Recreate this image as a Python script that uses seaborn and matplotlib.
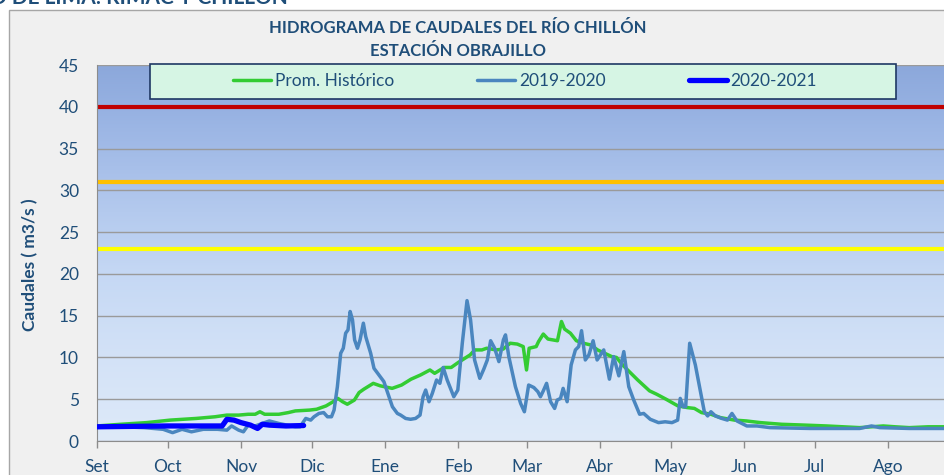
import matplotlib.pyplot as plt
import matplotlib.colors as mcolors
from matplotlib.patches import Rectangle
import seaborn as sns
import numpy as np
import pandas as pd

# eje x: dias desde el 1 de setiembre
month_labels = ['Set', 'Oct', 'Nov', 'Dic', 'Ene', 'Feb', 'Mar', 'Abr', 'May', 'Jun', 'Jul', 'Ago']
month_starts = [0, 30, 61, 91, 122, 153, 182, 213, 243, 274, 304, 335]

# Prom. Historico
hist_day = [0, 10, 21, 31, 42, 50, 55, 60, 64, 67,
            69, 71, 77, 81, 84, 90, 93, 97, 100, 102,
            104, 106, 109, 111, 113, 117, 120, 125, 129, 133,
            137, 141, 143, 147, 150, 153, 158, 160, 163, 165,
            169, 172, 175, 178, 180.5, 181.9, 183, 186, 187, 189,
            191, 193, 195, 196.7, 198, 200.5, 203, 206, 209, 212,
            215, 218, 220, 222, 224, 229, 234, 237, 241, 246,
            250, 253, 256, 260, 264, 270, 275, 281, 290, 300,
            309, 316, 323, 328, 333, 338, 344, 352, 359]
hist_q = [1.8, 2.0, 2.2, 2.5, 2.7, 2.9, 3.1, 3.1, 3.2, 3.2,
          3.5, 3.2, 3.2, 3.4, 3.6, 3.7, 3.8, 4.2, 4.7, 5.1,
          4.7, 4.4, 4.9, 5.8, 6.2, 6.9, 6.6, 6.3, 6.7, 7.4,
          7.9, 8.5, 8.1, 8.8, 8.8, 9.4, 10.3, 10.9, 10.9, 11.1,
          10.9, 11.0, 11.7, 11.6, 11.3, 8.5, 11.1, 11.3, 11.9, 12.8,
          12.2, 12.1, 12.0, 14.3, 13.4, 12.9, 12.0, 11.7, 11.5, 10.9,
          10.5, 10.1, 10.0, 9.3, 8.7, 7.3, 6.0, 5.6, 5.0, 4.2,
          4.0, 3.9, 3.4, 3.2, 2.8, 2.5, 2.4, 2.2, 2.0, 1.9,
          1.8, 1.7, 1.6, 1.7, 1.8, 1.7, 1.6, 1.7, 1.7]

# 2019-2020
q1920_day = [0, 10, 20, 28, 32, 36, 40, 45, 51, 55,
             57, 60, 62, 64, 67, 73, 77, 84, 86, 88.4,
             90.5, 91.9, 94, 96, 97.6, 99.3, 100.4, 101.8, 103.2, 104.3,
             105.3, 106.3, 107.2, 108.2, 109.1, 110.3, 111.4, 112.8, 113.8, 115.9,
             117.3, 119.4, 121.5, 123.2, 125.1, 127.2, 128.6, 130.7, 132.8, 134.9,
             136.8, 138.1, 139.2, 140.6, 142, 143.8, 145.2, 146.6, 148.3, 151.1,
             152.8, 154.7, 156.7, 158.2, 159.9, 162.1, 163.8, 165.3, 166.7, 168.4,
             170.2, 172.1, 173, 174.4, 177.2, 179.4, 181, 182.8, 185, 186.7,
             187.8, 189, 190.4, 192.1, 193.8, 194.9, 196.3, 197.4, 199.1, 200.8,
             202.6, 204, 205.2, 206.8, 208.3, 210.1, 211.8, 213.2, 214.6, 217,
             218.8, 221, 223.1, 225.2, 227.3, 229.8, 231.5, 234.3, 237.8, 240.6,
             243.5, 245.9, 247, 248.2, 249.3, 251, 253.4, 255.3, 257.2, 258.6,
             260, 261.9, 264.6, 267, 268.9, 271, 273.8, 275.2, 279.5, 285,
             302, 323, 328, 331.5, 344, 359]
q1920 = [1.7, 1.7, 1.6, 1.4, 1.0, 1.4, 1.1, 1.4, 1.4, 1.3,
         1.8, 1.3, 1.1, 1.9, 1.8, 2.4, 2.1, 1.7, 1.7, 2.7,
         2.5, 2.9, 3.3, 3.4, 2.9, 2.9, 3.7, 6.5, 10.5, 11.1,
         12.9, 13.3, 15.5, 14.5, 12.1, 11.1, 12.1, 14.1, 12.5, 10.5,
         8.7, 7.9, 7.1, 5.7, 4.1, 3.3, 3.1, 2.7, 2.6, 2.7,
         3.1, 5.3, 6.1, 4.7, 5.7, 7.3, 6.9, 8.8, 7.3, 5.3,
         6.1, 11.7, 16.8, 14.5, 9.7, 7.5, 8.6, 9.7, 12.0, 11.1,
         9.5, 12.1, 12.7, 10.1, 6.5, 4.5, 3.5, 6.7, 6.4, 5.9,
         5.3, 6.0, 6.9, 4.7, 3.9, 4.9, 5.1, 6.3, 4.7, 9.1,
         10.9, 11.3, 13.2, 9.7, 10.3, 12.0, 9.7, 10.3, 10.9, 7.4,
         10.1, 7.8, 10.7, 6.5, 4.9, 3.2, 3.3, 2.6, 2.2, 2.3,
         2.2, 2.5, 5.1, 4.1, 4.1, 11.7, 9.1, 6.3, 3.5, 3.0,
         3.5, 3.0, 2.7, 2.5, 3.3, 2.4, 2.0, 1.8, 1.8, 1.6,
         1.5, 1.5, 1.8, 1.6, 1.5, 1.5]

# 2020-2021
q2021_day = [0, 30, 53, 55, 58, 61, 65, 68, 70, 73, 80, 87.5]
q2021 = [1.7, 1.8, 1.8, 2.6, 2.5, 2.2, 1.9, 1.5, 2.0, 1.9, 1.8, 1.85]

# umbrales
umbral_q = [40, 31, 23]
umbral_colors = ['#C00000', '#FFC000', '#FFFF00']

sns.set_style('white')
plt.rcParams['font.family'] = ['Lato', 'DejaVu Sans']

txt_color = '#1F4E79'
xmax = 358.7

fig = plt.figure(figsize=(9.44, 4.75), dpi=100)
fig.add_artist(Rectangle((9 / 944, -0.05), 1.1, 1.05 - 10 / 475, transform=fig.transFigure,
                         facecolor='#F0F0F0', edgecolor='#A6A6A6', lw=1, zorder=-1))
ax = fig.add_axes([97 / 944, 34 / 475, 847 / 944, 376 / 475])

# fondo degradado del area de trazado
cmap = mcolors.LinearSegmentedColormap.from_list(
    'fondo', [(0, '#DEEAF9'), (10 / 45, '#D3E2F7'), (20 / 45, '#C5D8F4'),
              (30 / 45, '#AEC5EC'), (40 / 45, '#96B1E2'), (1, '#8CA8DB')])
ax.imshow(np.linspace(0, 1, 256).reshape(-1, 1), extent=[0, xmax, 0, 45], origin='lower',
          aspect='auto', cmap=cmap, zorder=0)

for q, c in zip(umbral_q, umbral_colors):
    ax.axhline(q, color=c, lw=3, zorder=2)

df_hist = pd.DataFrame({'dia': hist_day, 'q': hist_q})
df_1920 = pd.DataFrame({'dia': q1920_day, 'q': q1920})
df_2021 = pd.DataFrame({'dia': q2021_day, 'q': q2021})
sns.lineplot(data=df_hist, x='dia', y='q', ax=ax, color='#33CC33', lw=2.5, label='Prom. Histórico', zorder=3)
sns.lineplot(data=df_1920, x='dia', y='q', ax=ax, color='#4A86BF', lw=2.5, label='2019-2020', zorder=3)
sns.lineplot(data=df_2021, x='dia', y='q', ax=ax, color='#0000FF', lw=3.8, label='2020-2021', zorder=3)

ax.set_xlim(0, xmax)
ax.set_ylim(0, 45)
ax.set_yticks(range(0, 50, 5))
ax.set_xticks(month_starts)
ax.set_xticklabels(month_labels)
ax.set_axisbelow(True)
ax.yaxis.grid(True, color='#9A9A9A', lw=1)
ax.xaxis.grid(False)
ax.tick_params(axis='y', length=0, pad=13, labelsize=12.5, labelcolor=txt_color)
ax.tick_params(axis='x', length=5, width=1, color='#8C8C8C', direction='out', pad=8,
               labelsize=12.5, labelcolor=txt_color, bottom=True)
for s in ['top', 'right']:
    ax.spines[s].set_visible(False)
for s in ['left', 'bottom']:
    ax.spines[s].set_color('#8C8C8C')
ax.set_xlabel('')
ax.set_ylabel('Caudales ( m3/s )', fontsize=12.5, weight='bold', color=txt_color)
ax.yaxis.set_label_coords(-0.069, 0.47)

# leyenda con caja propia
ax.add_patch(Rectangle((53 / 847, 342 / 376), 746 / 847, 35 / 376, transform=ax.transAxes,
                       facecolor='#D6F5E4', edgecolor='#1F3864', lw=1.2, zorder=4, clip_on=False))
ax.legend(loc='center', bbox_to_anchor=(428 / 847, 359.5 / 376), ncol=3, frameon=False,
          fontsize=12.5, labelcolor=txt_color, handlelength=2.2, handletextpad=0.2,
          columnspacing=4.8).set_zorder(5)

fig.text(458 / 944, 1 - 28 / 475, 'HIDROGRAMA DE CAUDALES DEL RÍO CHILLÓN', ha='center', va='center',
         fontsize=12, weight='bold', color=txt_color)
fig.text(458 / 944, 1 - 51 / 475, 'ESTACIÓN OBRAJILLO', ha='center', va='center',
         fontsize=12, weight='bold', color=txt_color)
fig.text(288 / 944, 1 - 4 / 475, 'O DE LIMA: RIMAC Y CHILLON', ha='right', va='baseline',
         fontsize=15, weight='bold', color=txt_color)

fig.savefig('out.png', dpi=100)
